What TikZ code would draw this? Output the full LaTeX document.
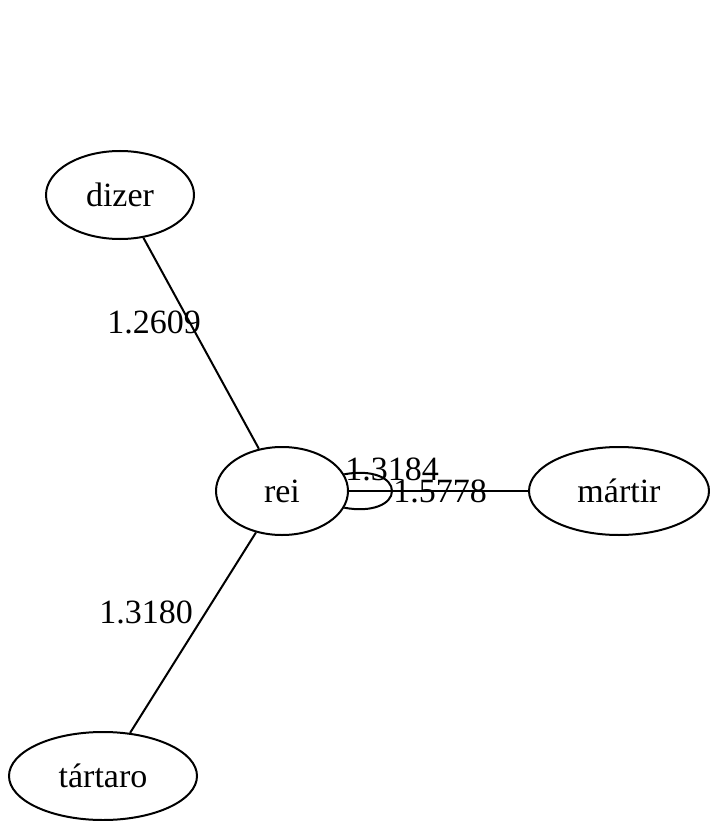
\documentclass[tikz,border=0pt]{standalone}
\usepackage{fontspec}
\setmainfont{Liberation Serif}[Scale=3.4]
\usetikzlibrary{shapes.geometric}
\begin{document}
\begin{tikzpicture}[x=1pt,y=-1pt,
  nd/.style={ellipse,draw,line width=2pt,inner sep=0pt,minimum height=88pt},
  lbl/.style={inner sep=0pt},
  ed/.style={line width=2pt}]
\useasboundingbox (0,0) rectangle (709,821);
\node[nd,minimum width=148pt] (dizer) at (120,195) {dizer};
\node[nd,minimum width=132pt] (rei) at (282,491) {rei};
\node[nd,minimum width=180pt] (martir) at (619,491) {mártir};
\node[nd,minimum width=188pt] (tartaro) at (103,776) {tártaro};
\draw[ed] (dizer) -- (rei);
\draw[ed] (rei) -- (tartaro);
\draw[ed] (rei) -- (martir);
\coordinate (looptip) at (392,491);
\draw[ed] (rei.15) .. controls (372,469) and (392,478) .. (looptip) .. controls (392,504) and (372,513) .. (rei.-15);
\node[lbl] (l1) at (154,322) {1.2609};
\node[lbl] (l2) at (146,612) {1.3180};
\node[lbl] (l3) at (392,469) {1.3184};
\node[lbl] (l4) at (440,491) {1.5778};
\end{tikzpicture}
\end{document}
